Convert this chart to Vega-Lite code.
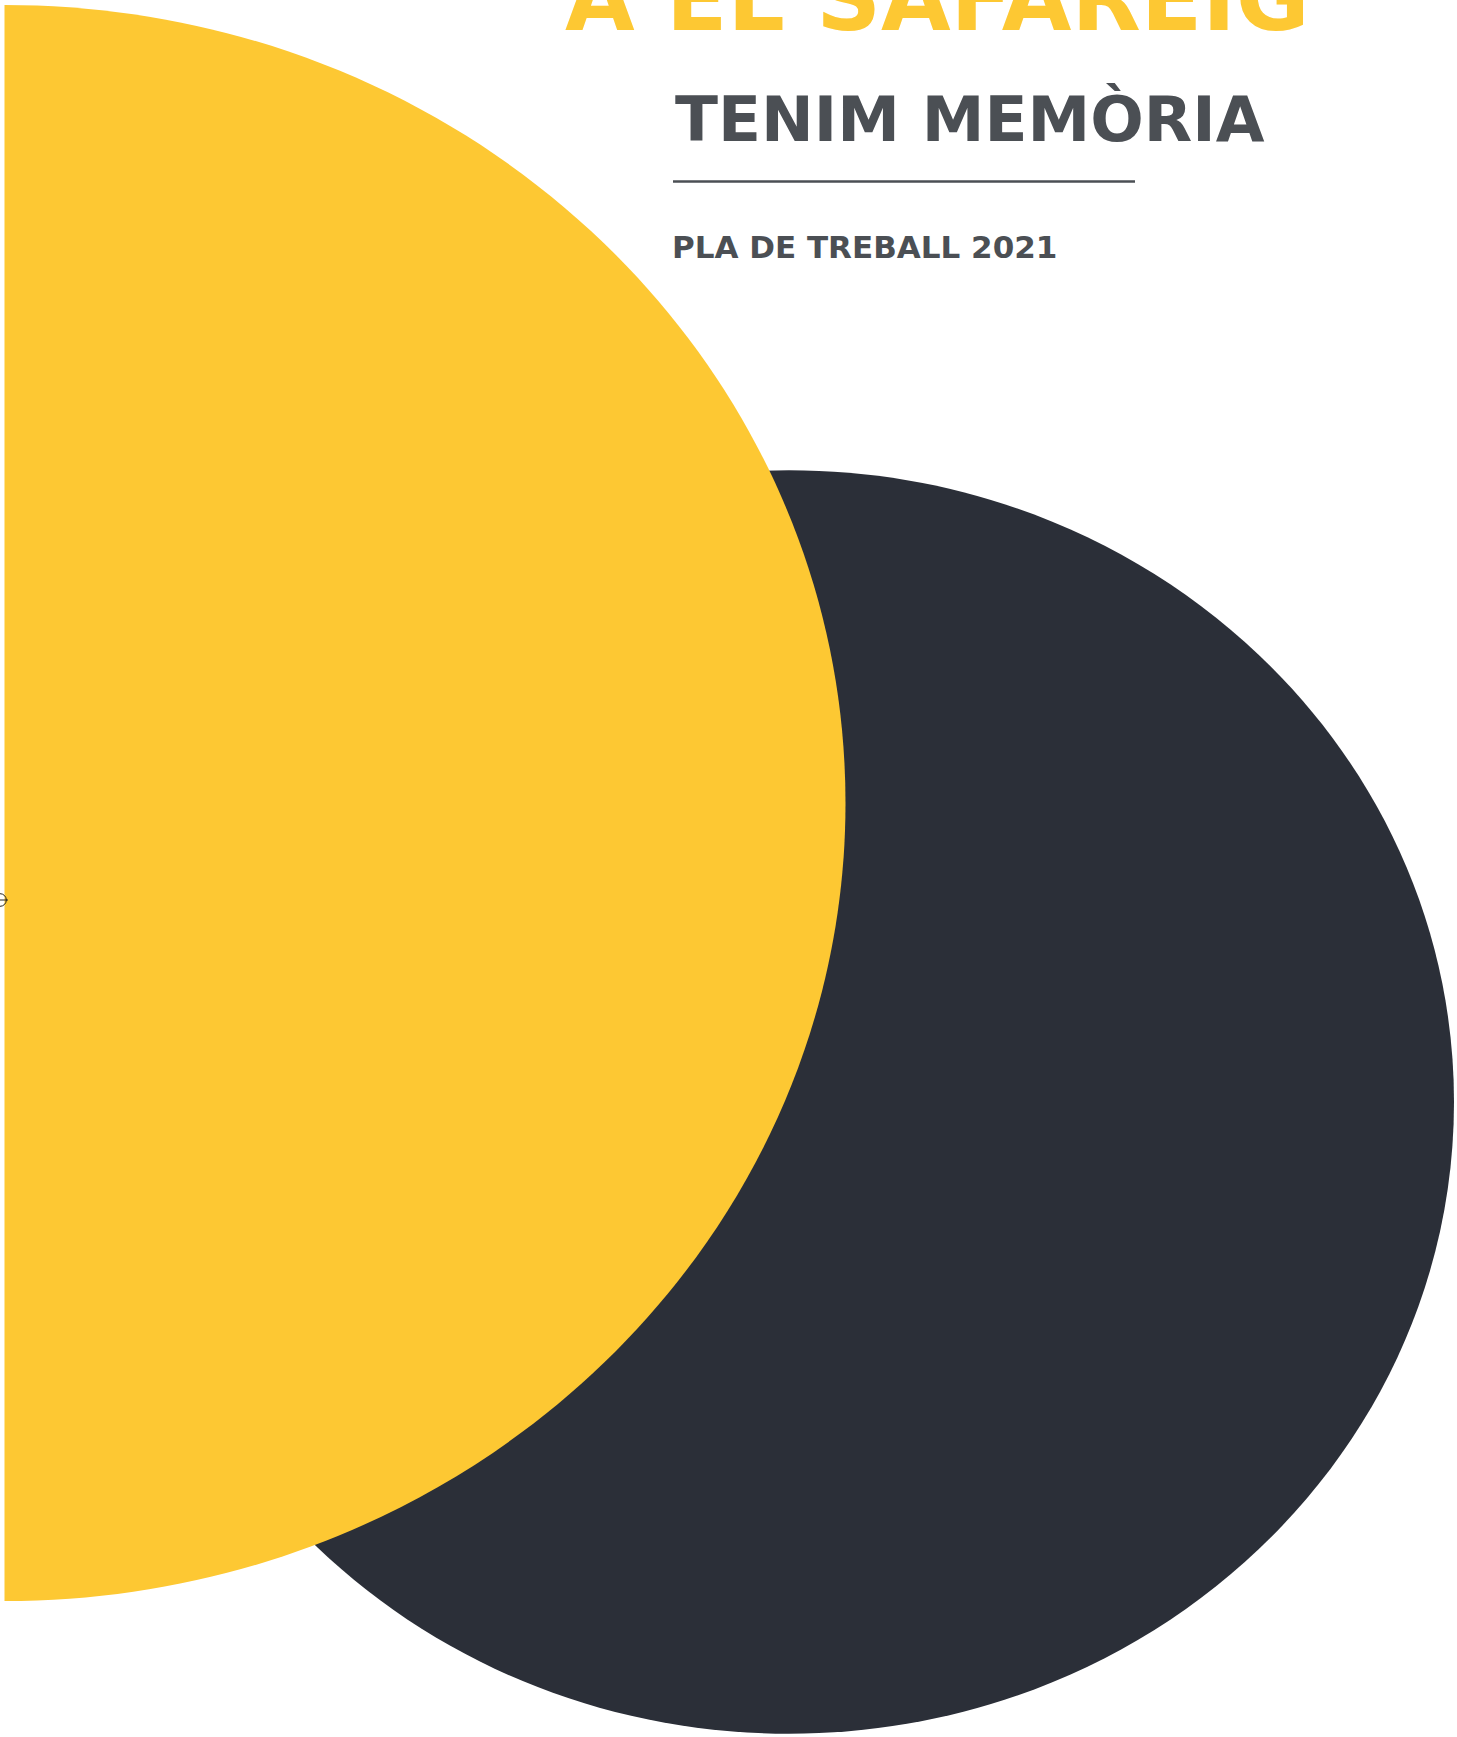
{
  "$schema": "https://vega.github.io/schema/vega-lite/v6.json",
  "width": 1457,
  "height": 1737,
  "padding": 0,
  "autosize": {"type": "none"},
  "background": "#ffffff",
  "config": {"view": {"stroke": null}},
  "datasets": {
    "shapes": [
      {"name": "dark", "x": 789, "y": 1102},
      {"name": "yellow", "x": 4.5, "y": 803}
    ],
    "title": [{"label": "A EL SAFAREIG", "x": 565, "y": 30}],
    "subtitle": [{"label": "TENIM MEMÒRIA", "x": 675, "y": 140.5}],
    "rule": [{"x": 673, "x2": 1135, "y": 181.5}],
    "plan": [{"label": "PLA DE TREBALL 2021", "x": 672, "y": 258}],
    "marker": [{"x": 0, "y": 900}]
  },
  "layer": [
    {
      "data": {"name": "shapes"},
      "transform": [{"filter": "datum.name === 'dark'"}],
      "mark": {"type": "point", "shape": "M-1,0A1,0.95,0,1,1,1,0A1,0.95,0,1,1,-1,0Z", "size": 1768900, "filled": true, "fill": "#2B2F38", "strokeWidth": 0, "opacity": 1},
      "encoding": {
        "x": {"field": "x", "type": "quantitative", "scale": {"domain": [0, 1457], "nice": false, "zero": false}, "axis": null},
        "y": {"field": "y", "type": "quantitative", "scale": {"domain": [0, 1737], "nice": false, "zero": false, "reverse": true}, "axis": null}
      }
    },
    {
      "data": {"name": "shapes"},
      "transform": [{"filter": "datum.name === 'yellow'"}],
      "mark": {"type": "point", "shape": "M0,-0.949A1,0.949,0,0,1,0,0.949Z", "size": 2829124, "filled": true, "fill": "#FDC833", "strokeWidth": 0, "opacity": 1},
      "encoding": {
        "x": {"field": "x", "type": "quantitative"},
        "y": {"field": "y", "type": "quantitative"}
      }
    },
    {
      "data": {"name": "marker"},
      "mark": {"type": "point", "shape": "circle", "size": 160, "filled": false, "stroke": "#222222", "strokeWidth": 1, "opacity": 1},
      "encoding": {
        "x": {"field": "x", "type": "quantitative"},
        "y": {"field": "y", "type": "quantitative"}
      }
    },
    {
      "data": {"name": "marker"},
      "mark": {"type": "point", "shape": "M-1,0L1,0", "size": 256, "filled": false, "stroke": "#222222", "strokeWidth": 1, "opacity": 1},
      "encoding": {
        "x": {"field": "x", "type": "quantitative"},
        "y": {"field": "y", "type": "quantitative"}
      }
    },
    {
      "data": {"name": "title"},
      "mark": {"type": "text", "font": "DejaVu Sans", "fontWeight": "bold", "fontSize": 90, "fill": "#FDC833", "align": "left", "baseline": "alphabetic"},
      "encoding": {
        "x": {"field": "x", "type": "quantitative"},
        "y": {"field": "y", "type": "quantitative"},
        "text": {"field": "label"}
      }
    },
    {
      "data": {"name": "subtitle"},
      "mark": {"type": "text", "font": "DejaVu Sans", "fontWeight": "bold", "fontSize": 63, "fill": "#4B4F54", "align": "left", "baseline": "alphabetic"},
      "encoding": {
        "x": {"field": "x", "type": "quantitative"},
        "y": {"field": "y", "type": "quantitative"},
        "text": {"field": "label"}
      }
    },
    {
      "data": {"name": "rule"},
      "mark": {"type": "rule", "stroke": "#4B4F54", "strokeWidth": 2.5},
      "encoding": {
        "x": {"field": "x", "type": "quantitative"},
        "x2": {"field": "x2"},
        "y": {"field": "y", "type": "quantitative"}
      }
    },
    {
      "data": {"name": "plan"},
      "mark": {"type": "text", "font": "DejaVu Sans", "fontWeight": "bold", "fontSize": 31, "fill": "#4B4F54", "align": "left", "baseline": "alphabetic"},
      "encoding": {
        "x": {"field": "x", "type": "quantitative"},
        "y": {"field": "y", "type": "quantitative"},
        "text": {"field": "label"}
      }
    }
  ]
}
